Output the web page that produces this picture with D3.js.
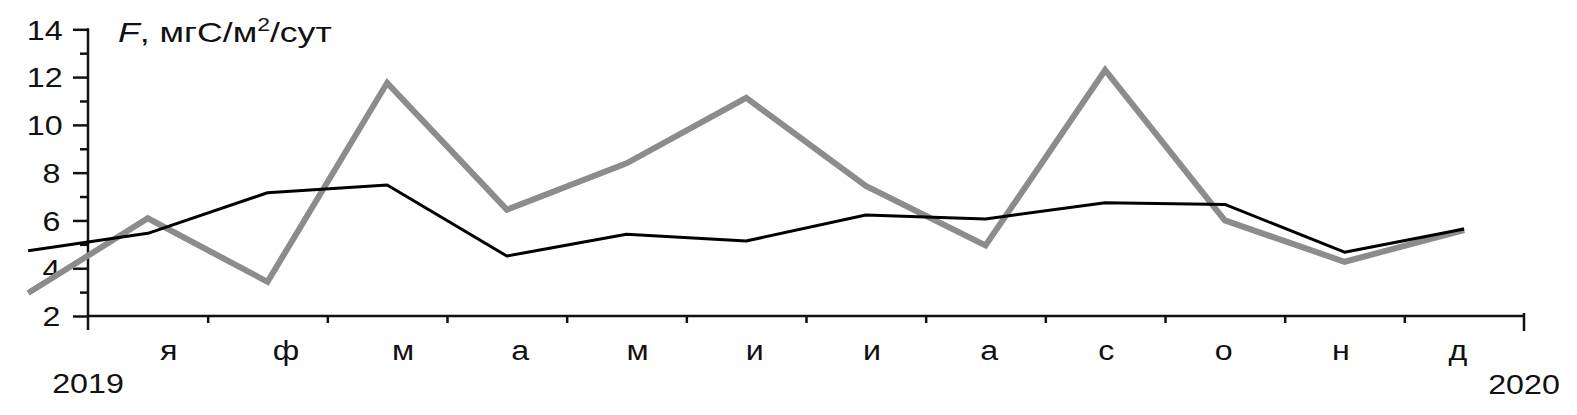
<!DOCTYPE html>
<html>
<head>
<meta charset="utf-8">
<script src="https://cdn.jsdelivr.net/npm/d3@7"></script>
<style>
  html, body { margin: 0; padding: 0; background: #fff; }
  svg { display: block; }
  text { font-family: "Liberation Sans", Arial, sans-serif; fill: #111; }
</style>
</head>
<body>
<svg id="chart" width="1577" height="415"></svg>
<script>
// Data: index 0 is December of the previous year (drawn left of the axis), 1..12 are Jan..Dec 2019
const monthLabels = ["я", "ф", "м", "а", "м", "и", "и", "а", "с", "о", "н", "д"];
const grayValues  = [2.96, 6.09, 3.43, 11.76, 6.45, 8.39, 11.13, 7.44, 4.95, 12.29, 6.0, 4.27, 5.6];
const blackValues = [4.73, 5.46, 7.16, 7.48, 4.51, 5.42, 5.14, 6.23, 6.06, 6.74, 6.67, 4.67, 5.64];
const yTicks = [2, 4, 6, 8, 10, 12, 14];
const yMinorTicks = [3, 5, 7, 9, 11, 13];
const yearLabels = ["2019", "2020"];

const svg = d3.select("#chart");
const x = d3.scaleLinear().domain([0, 12]).range([88, 1524]);
const y = d3.scaleLinear().domain([2, 14]).range([316, 29.3]);
const labelScale = d3.scalePoint().domain(d3.range(12)).range([168.7, 1458]);

const axisColor = "#111";
const FS = "28px";
const STRETCH = 1.15;

// horizontal stretch of a text element about its anchor x
function stretch(sel, factor) {
  sel.each(function () {
    const el = d3.select(this);
    const bb = this.getBBox();
    const anchor = el.attr("text-anchor") || "start";
    let ax = bb.x;
    if (anchor === "middle") ax = bb.x + bb.width / 2;
    else if (anchor === "end") ax = bb.x + bb.width;
    const prev = el.attr("transform") || "";
    el.attr("transform", `${prev} translate(${ax},0) scale(${factor},1) translate(${-ax},0)`);
  });
}

// Y axis
const yAxis = d3.axisLeft(y).tickValues(yTicks).tickSize(15).tickPadding(0).tickFormat(d3.format("d"));
const gy = svg.append("g").attr("transform", "translate(88,0)").call(yAxis);
gy.select(".domain").remove();
gy.selectAll(".tick line").attr("stroke", axisColor).attr("stroke-width", 2.5);
gy.selectAll(".tick text").attr("x", -30).attr("dy", "0.35em")
  .style("font-size", FS).style("font-family", "Liberation Sans, Arial, sans-serif").attr("fill", "#111");
stretch(gy.selectAll(".tick text"), STRETCH);
const gyMinor = svg.append("g").attr("transform", "translate(88,0)")
  .call(d3.axisLeft(y).tickValues(yMinorTicks).tickSize(8).tickFormat(""));
gyMinor.select(".domain").remove();
gyMinor.selectAll(".tick line").attr("stroke", axisColor).attr("stroke-width", 2.5);
svg.append("line").attr("x1", 88).attr("x2", 88).attr("y1", y(14) - 1).attr("y2", y(2) + 14)
  .attr("stroke", axisColor).attr("stroke-width", 2.5);

// X axis
const innerTicks = d3.range(1, 12);
const gx = svg.append("g").attr("transform", "translate(0,316)")
  .call(d3.axisBottom(x).tickValues(innerTicks).tickSize(7).tickFormat(""));
gx.select(".domain").remove();
gx.selectAll(".tick line").attr("stroke", axisColor).attr("stroke-width", 2.5);
svg.append("line").attr("x1", x(0)).attr("x2", x(12)).attr("y1", 316).attr("y2", 316)
  .attr("stroke", axisColor).attr("stroke-width", 2.5);
svg.append("line").attr("x1", x(12)).attr("x2", x(12)).attr("y1", 313).attr("y2", 331)
  .attr("stroke", axisColor).attr("stroke-width", 2.5);

// Month labels
const ml = svg.append("g").selectAll("text").data(monthLabels).join("text")
  .attr("x", (d, i) => labelScale(i)).attr("y", 360)
  .attr("text-anchor", "middle").style("font-size", FS).text(d => d);
stretch(ml, STRETCH);

// Year labels
const y1 = svg.append("text").attr("x", x(0)).attr("y", 393).attr("text-anchor", "middle")
  .style("font-size", FS).text(yearLabels[0]);
const y2 = svg.append("text").attr("x", x(12)).attr("y", 394).attr("text-anchor", "middle")
  .style("font-size", FS).text(yearLabels[1]);
stretch(y1, STRETCH);
stretch(y2, STRETCH);

// Title
const title = svg.append("text").attr("x", 118).attr("y", 41.7).style("font-size", FS);
title.append("tspan").style("font-style", "italic").text("F");
title.append("tspan").text(", мгС/м");
title.append("tspan").attr("dy", -11).style("font-size", "18px").text("2");
title.append("tspan").attr("dy", 11).text("/сут");
const tbb = title.node().getBBox();
stretch(title, 214 / tbb.width);

// Lines
const line = d3.line().x((d, i) => x(i - 0.5)).y(d => y(d));
svg.append("path").datum(grayValues).attr("d", line)
  .attr("fill", "none").attr("stroke", "#8c8c8c").attr("stroke-width", 6)
  .attr("stroke-linejoin", "miter");
svg.append("path").datum(blackValues).attr("d", line)
  .attr("fill", "none").attr("stroke", "#000").attr("stroke-width", 3)
  .attr("stroke-linejoin", "round");
</script>
</body>
</html>
